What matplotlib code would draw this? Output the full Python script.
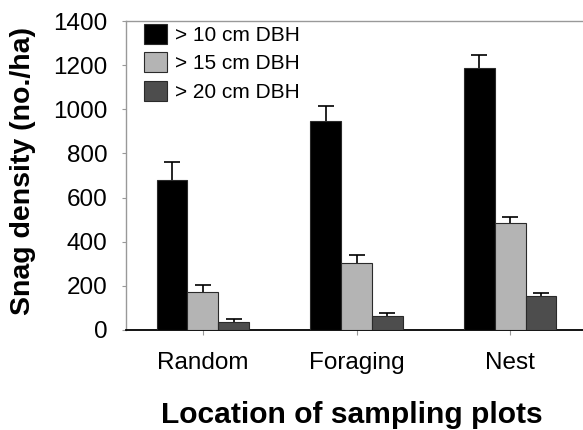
import matplotlib
matplotlib.use("Agg")
import matplotlib.pyplot as plt
import numpy as np

plt.rcParams['font.family'] = ['Liberation Sans', 'DejaVu Sans']

categories = ["Random", "Foraging", "Nest"]
series_labels = ["> 10 cm DBH", "> 15 cm DBH", "> 20 cm DBH"]
dbh10 = [678, 947, 1189]
dbh10_err = [82, 69, 57]
dbh15 = [173, 305, 485]
dbh15_err = [31, 35, 28]
dbh20 = [36, 65, 153]
dbh20_err = [12, 13, 15]
yticks = [0, 200, 400, 600, 800, 1000, 1200, 1400]

values = [dbh10, dbh15, dbh20]
errors = [dbh10_err, dbh15_err, dbh20_err]
colors = ["#000000", "#b4b4b4", "#4d4d4d"]

W, H = 583, 430
fig = plt.figure(figsize=(5.83, 4.30), dpi=100)
ax = fig.add_axes([126/W, 1 - 330/H, (587 - 126)/W, (330 - 21)/H])

x = np.arange(len(categories))
width = 0.2
handles = []
for i, (vals, errs, col, lab) in enumerate(zip(values, errors, colors, series_labels)):
    pos = x + (i - 1) * width
    b = ax.bar(pos, vals, width, color=col, edgecolor="#2a2a2a", linewidth=0.8,
               zorder=3, label=lab)
    handles.append(b)
    ax.errorbar(pos, vals, yerr=errs, fmt="none", ecolor="#000000",
                elinewidth=1.2, capsize=5.8, capthick=1.2, zorder=2)

ax.set_xlim(-0.5, 2.5)
ax.set_ylim(0, 1400)
ax.set_yticks(yticks)
ax.set_yticklabels([str(t) for t in yticks])
ax.set_xticks(x)
ax.set_xticklabels(categories)

ax.tick_params(axis='y', direction='out', length=3, width=0.8, color="#999999",
               labelsize=17.5, pad=10.5)
ax.tick_params(axis='x', direction='out', length=3.5, width=0.8, color="#999999",
               labelsize=17.5, pad=12)

for s in ['left', 'top']:
    ax.spines[s].set_color("#999999")
    ax.spines[s].set_linewidth(1.0)
ax.spines['bottom'].set_color("#000000")
ax.spines['bottom'].set_linewidth(1.3)
ax.spines['right'].set_visible(False)

fig.text(23/W, 1 - 315/H, "Snag density (no./ha)", rotation=90, ha='center', va='bottom',
         fontsize=20.5, fontweight='bold')
fig.text(352/W, 1 - 423/H, "Location of sampling plots", ha='center', va='baseline',
         fontsize=21.6, fontweight='bold')

leg = ax.legend(handles=handles, loc='upper left',
                bbox_to_anchor=(144/W, 1 - 24/H), bbox_transform=fig.transFigure,
                frameon=False, fontsize=15, handlelength=1.1, handleheight=1.1,
                handletextpad=0.4, labelspacing=0.35, borderpad=0, borderaxespad=0)

fig.savefig("out.png", dpi=100)
